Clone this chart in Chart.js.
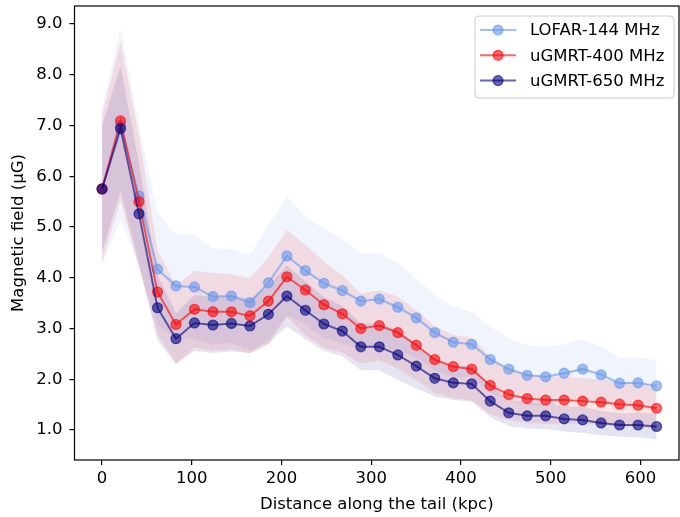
<!DOCTYPE html>
<html>
<head>
<meta charset="utf-8">
<script src="https://cdn.jsdelivr.net/npm/chart.js@4/dist/chart.umd.min.js"></script>
<style>
  html, body { margin: 0; padding: 0; background: #ffffff; }
  #wrap { width: 680px; height: 517px; position: relative; }
</style>
</head>
<body>
<div id="wrap"><canvas id="c" width="680" height="517"></canvas></div>
<script>
// ---- data ----
const distanceKpc = [0, 20.6, 41.2, 61.8, 82.4, 103.0, 123.6, 144.2, 164.8, 185.4, 206.0, 226.6, 247.2, 267.8, 288.4, 309.0, 329.6, 350.2, 370.8, 391.4, 412.0, 432.6, 453.2, 473.8, 494.4, 515.0, 535.6, 556.2, 576.8, 597.4, 618.0];

const lofarB    = [5.75, 7.00, 5.61, 4.17, 3.84, 3.82, 3.63, 3.64, 3.51, 3.90, 4.43, 4.14, 3.89, 3.75, 3.54, 3.58, 3.42, 3.21, 2.92, 2.73, 2.69, 2.39, 2.20, 2.08, 2.05, 2.12, 2.20, 2.09, 1.92, 1.93, 1.87];
const lofarHigh = [7.35, 8.92, 7.00, 5.28, 4.86, 4.84, 4.58, 4.56, 4.45, 5.04, 5.60, 5.20, 4.97, 4.78, 4.48, 4.50, 4.28, 3.99, 3.66, 3.43, 3.33, 3.04, 2.81, 2.67, 2.63, 2.69, 2.79, 2.64, 2.43, 2.43, 2.38];
const lofarLow  = [4.25, 5.15, 4.22, 3.06, 2.82, 2.80, 2.68, 2.72, 2.57, 2.76, 3.26, 3.08, 2.81, 2.70, 2.60, 2.66, 2.56, 2.43, 2.18, 2.03, 2.05, 1.74, 1.59, 1.49, 1.47, 1.55, 1.61, 1.54, 1.41, 1.43, 1.36];

const gmrt400B    = [5.75, 7.09, 5.50, 3.72, 3.08, 3.38, 3.33, 3.33, 3.25, 3.54, 4.02, 3.76, 3.47, 3.29, 3.00, 3.06, 2.92, 2.67, 2.39, 2.25, 2.20, 1.88, 1.70, 1.62, 1.59, 1.59, 1.57, 1.55, 1.51, 1.49, 1.43];
const gmrt400High = [7.20, 8.65, 6.80, 4.55, 3.85, 4.14, 4.10, 4.07, 3.99, 4.41, 4.94, 4.65, 4.32, 4.05, 3.69, 3.75, 3.63, 3.36, 3.05, 2.88, 2.82, 2.45, 2.20, 2.10, 2.06, 2.05, 2.02, 2.00, 1.95, 1.92, 1.85];
const gmrt400Low  = [4.30, 5.52, 4.20, 2.89, 2.30, 2.62, 2.56, 2.59, 2.51, 2.67, 3.23, 2.87, 2.62, 2.53, 2.31, 2.37, 2.21, 1.98, 1.73, 1.62, 1.58, 1.31, 1.20, 1.14, 1.12, 1.13, 1.12, 1.10, 1.07, 1.06, 1.01];

const gmrt650B    = [5.75, 6.94, 5.26, 3.41, 2.80, 3.11, 3.07, 3.10, 3.05, 3.28, 3.64, 3.36, 3.09, 2.95, 2.64, 2.64, 2.48, 2.26, 2.02, 1.93, 1.91, 1.57, 1.34, 1.28, 1.28, 1.22, 1.20, 1.14, 1.10, 1.10, 1.07];
const gmrt650High = [7.00, 8.17, 6.26, 4.06, 3.30, 3.66, 3.62, 3.65, 3.58, 3.85, 4.24, 3.93, 3.62, 3.45, 3.10, 3.10, 2.97, 2.70, 2.38, 2.27, 2.26, 1.89, 1.60, 1.53, 1.54, 1.47, 1.46, 1.38, 1.33, 1.34, 1.32];
const gmrt650Low  = [4.50, 5.71, 4.26, 2.76, 2.30, 2.56, 2.52, 2.55, 2.52, 2.71, 3.04, 2.79, 2.56, 2.45, 2.18, 2.18, 1.99, 1.82, 1.66, 1.59, 1.56, 1.25, 1.08, 1.03, 1.02, 0.97, 0.94, 0.90, 0.87, 0.86, 0.82];

const seriesLabels = ['LOFAR-144 MHz', 'uGMRT-400 MHz', 'uGMRT-650 MHz'];
const xTicks = [0, 100, 200, 300, 400, 500, 600];
const yTicks = [1, 2, 3, 4, 5, 6, 7, 8, 9];

// ---- styling ----
const FONT = '"DejaVu Sans", "Liberation Sans", sans-serif';
const FS = 16.5;
const baseCols = ['100,149,237', '255,0,0', '0,0,128'];
const lineA = 0.6, bandA = 0.1;

function pts(ys) { return ys.map((y, i) => ({ x: distanceKpc[i], y: y })); }

const seriesData = [
  { b: lofarB, hi: lofarHigh, lo: lofarLow },
  { b: gmrt400B, hi: gmrt400High, lo: gmrt400Low },
  { b: gmrt650B, hi: gmrt650High, lo: gmrt650Low }
];

const datasets = [];
seriesData.forEach((s, k) => {
  datasets.push({
    label: seriesLabels[k] + ' upper', data: pts(s.hi), fill: '+1',
    backgroundColor: 'rgba(' + baseCols[k] + ',' + bandA + ')',
    borderWidth: 0, pointRadius: 0, order: 10 - k, tension: 0
  });
  datasets.push({
    label: seriesLabels[k] + ' lower', data: pts(s.lo), fill: false,
    borderWidth: 0, pointRadius: 0, order: 10 - k, tension: 0
  });
});
seriesData.forEach((s, k) => {
  const c = 'rgba(' + baseCols[k] + ',' + lineA + ')';
  datasets.push({
    label: seriesLabels[k], data: pts(s.b), fill: false,
    borderColor: c, backgroundColor: c,
    pointBackgroundColor: c, pointBorderColor: c,
    borderWidth: 2, pointRadius: 5, pointBorderWidth: 1.2,
    order: 3 - k, tension: 0
  });
});

function noPad(s) { s.paddingTop = 0; s.paddingBottom = 0; s.paddingLeft = 0; s.paddingRight = 0; }

const framePlugin = {
  id: 'frameAndLegend',
  afterDraw(chart) {
    const ctx = chart.ctx, a = chart.chartArea;
    ctx.save();
    ctx.strokeStyle = '#000';
    ctx.lineWidth = 1.2;
    ctx.strokeRect(a.left, a.top, a.right - a.left, a.bottom - a.top);
    // legend box (top right, inside axes)
    const bx = 475, by = 16, bw = 199, bh = 82, r = 4;
    ctx.beginPath();
    ctx.moveTo(bx + r, by);
    ctx.lineTo(bx + bw - r, by); ctx.quadraticCurveTo(bx + bw, by, bx + bw, by + r);
    ctx.lineTo(bx + bw, by + bh - r); ctx.quadraticCurveTo(bx + bw, by + bh, bx + bw - r, by + bh);
    ctx.lineTo(bx + r, by + bh); ctx.quadraticCurveTo(bx, by + bh, bx, by + bh - r);
    ctx.lineTo(bx, by + r); ctx.quadraticCurveTo(bx, by, bx + r, by);
    ctx.closePath();
    ctx.fillStyle = 'rgba(255,255,255,0.8)';
    ctx.fill();
    ctx.strokeStyle = '#cccccc';
    ctx.lineWidth = 1;
    ctx.stroke();
    ctx.font = FS + 'px ' + FONT;
    ctx.textBaseline = 'middle';
    ctx.textAlign = 'left';
    seriesLabels.forEach((lab, k) => {
      const y = 30 + k * 25.3;
      const c = 'rgba(' + baseCols[k] + ',' + lineA + ')';
      ctx.strokeStyle = c; ctx.lineWidth = 2;
      ctx.beginPath(); ctx.moveTo(480, y); ctx.lineTo(516, y); ctx.stroke();
      ctx.beginPath(); ctx.arc(498, y, 5, 0, Math.PI * 2);
      ctx.fillStyle = c; ctx.fill(); ctx.lineWidth = 1.2; ctx.stroke();
      ctx.fillStyle = '#000';
      ctx.fillText(lab, 530, y + 1);
    });
    ctx.restore();
  }
};

new Chart(document.getElementById('c'), {
  type: 'line',
  data: { datasets: datasets },
  options: {
    responsive: false,
    animation: false,
    devicePixelRatio: 1,
    layout: { autoPadding: false, padding: { top: 6, right: 1, left: 0, bottom: 0 } },
    plugins: {
      legend: { display: false },
      tooltip: { enabled: false },
      filler: { drawTime: 'beforeDatasetsDraw', propagate: false }
    },
    scales: {
      x: {
        type: 'linear', min: -30.7, max: 643,
        afterFit(s) { s.height = 57; noPad(s); },
        afterBuildTicks(s) { s.ticks = xTicks.map(v => ({ value: v })); },
        grid: { drawOnChartArea: false, drawTicks: true, tickLength: 5, color: '#000', lineWidth: 1.2 },
        border: { display: false },
        ticks: { color: '#000', font: { family: FONT, size: FS }, padding: 4, maxRotation: 0,
                 callback: v => String(v) },
        title: { display: true, text: 'Distance along the tail (kpc)', color: '#000',
                 font: { family: FONT, size: FS }, padding: { top: 0, bottom: 2 } }
      },
      y: {
        type: 'linear', min: 0.41, max: 9.355,
        afterFit(s) { s.width = 74.5; noPad(s); },
        afterBuildTicks(s) { s.ticks = yTicks.map(v => ({ value: v })); },
        grid: { drawOnChartArea: false, drawTicks: true, tickLength: 5, color: '#000', lineWidth: 1.2 },
        border: { display: false },
        ticks: { color: '#000', font: { family: FONT, size: FS }, padding: 7,
                 callback: v => Number(v).toFixed(1) },
        title: { display: true, text: 'Magnetic field (µG)', color: '#000',
                 font: { family: FONT, size: FS }, padding: { top: 9, bottom: 0 } }
      }
    }
  },
  plugins: [framePlugin]
});
</script>
</body>
</html>
